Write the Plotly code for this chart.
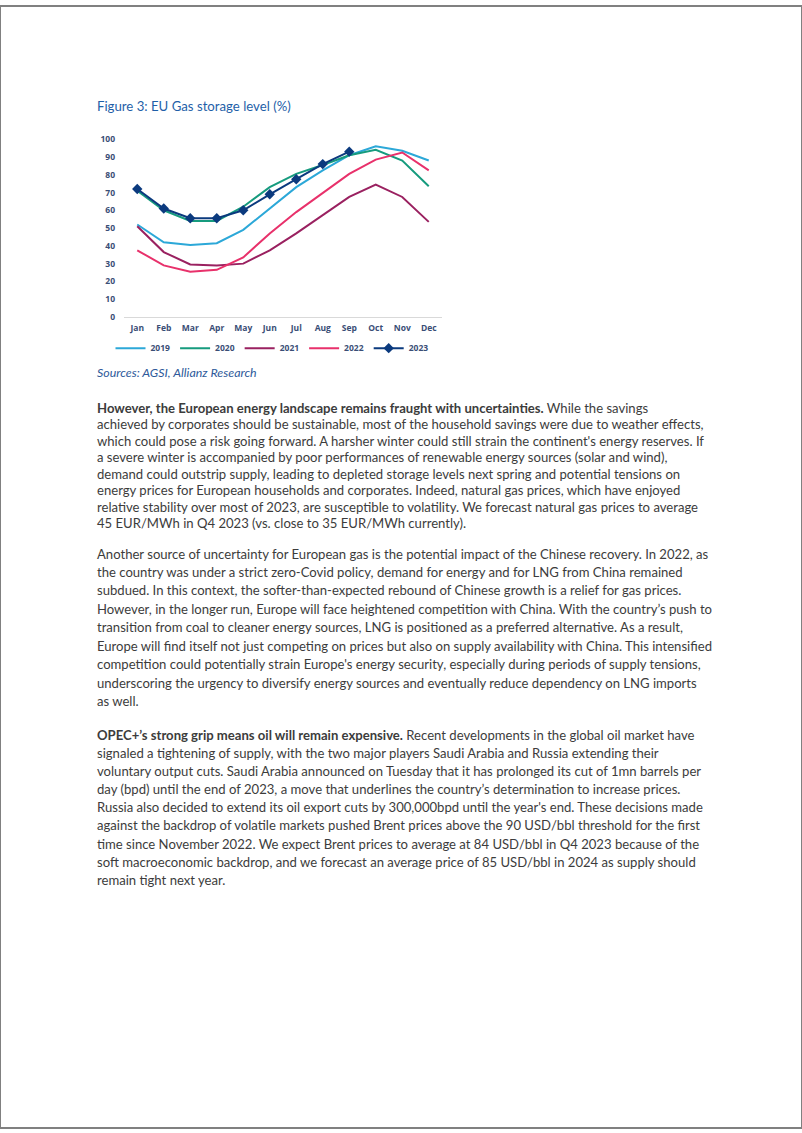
import plotly.graph_objects as go

W, H = 802, 1133

months = ['Jan', 'Feb', 'Mar', 'Apr', 'May', 'Jun', 'Jul', 'Aug', 'Sep', 'Oct', 'Nov', 'Dec']
y2019 = [52, 42, 40.5, 41.5, 49, 61, 73, 82.5, 91, 96, 93.5, 88]
y2020 = [71, 60, 54, 54, 62, 73, 80.5, 85.5, 91, 94, 88, 73.5]
y2021 = [51, 36.5, 29.5, 29, 30, 37.5, 47, 57, 67.5, 74.5, 67.5, 53.5]
y2022 = [37.5, 29, 25.5, 26.5, 33.5, 47, 59, 70, 80.5, 88.5, 92.5, 82.5]
y2023 = [72, 61, 55.5, 55.5, 60, 69, 77.5, 86, 93, None, None, None]
yticks = [0, 10, 20, 30, 40, 50, 60, 70, 80, 90, 100]

series = [
    ('2019', y2019, '#2CA8D8'),
    ('2020', y2020, '#169B7E'),
    ('2021', y2021, '#9A2160'),
    ('2022', y2022, '#E8316B'),
]

para1 = [
    "<b>However, the European energy landscape remains fraught with uncertainties.</b> While the savings",
    "achieved by corporates should be sustainable, most of the household savings were due to weather effects,",
    "which could pose a risk going forward. A harsher winter could still strain the continent's energy reserves. If",
    "a severe winter is accompanied by poor performances of renewable energy sources (solar and wind),",
    "demand could outstrip supply, leading to depleted storage levels next spring and potential tensions on",
    "energy prices for European households and corporates. Indeed, natural gas prices, which have enjoyed",
    "relative stability over most of 2023, are susceptible to volatility. We forecast natural gas prices to average",
    "45 EUR/MWh in Q4 2023 (vs. close to 35 EUR/MWh currently).",
]
para2 = [
    "Another source of uncertainty for European gas is the potential impact of the Chinese recovery. In 2022, as",
    "the country was under a strict zero-Covid policy, demand for energy and for LNG from China remained",
    "subdued. In this context, the softer-than-expected rebound of Chinese growth is a relief for gas prices.",
    "However, in the longer run, Europe will face heightened competition with China. With the country\u2019s push to",
    "transition from coal to cleaner energy sources, LNG is positioned as a preferred alternative. As a result,",
    "Europe will find itself not just competing on prices but also on supply availability with China. This intensified",
    "competition could potentially strain Europe's energy security, especially during periods of supply tensions,",
    "underscoring the urgency to diversify energy sources and eventually reduce dependency on LNG imports",
    "as well.",
]
para3 = [
    "<b>OPEC+\u2019s strong grip means oil will remain expensive.</b> Recent developments in the global oil market have",
    "signaled a tightening of supply, with the two major players Saudi Arabia and Russia extending their",
    "voluntary output cuts. Saudi Arabia announced on Tuesday that it has prolonged its cut of 1mn barrels per",
    "day (bpd) until the end of 2023, a move that underlines the country\u2019s determination to increase prices.",
    "Russia also decided to extend its oil export cuts by 300,000bpd until the year's end. These decisions made",
    "against the backdrop of volatile markets pushed Brent prices above the 90 USD/bbl threshold for the first",
    "time since November 2022. We expect Brent prices to average at 84 USD/bbl in Q4 2023 because of the",
    "soft macroeconomic backdrop, and we forecast an average price of 85 USD/bbl in 2024 as supply should",
    "remain tight next year.",
]

fig = go.Figure()
for name, vals, col in series:
    fig.add_trace(go.Scatter(x=months, y=vals, name=name, mode='lines',
                             line=dict(color=col, width=2)))
fig.add_trace(go.Scatter(x=months, y=y2023, name='2023', mode='lines+markers',
                         line=dict(color='#0B3A7E', width=2),
                         marker=dict(symbol='diamond', size=8, color='#0B3A7E')))

def py(px):
    return 1 - px / H

tick_font = dict(family='Open Sans', size=8.5, color='#3A4E76', weight='bold')
fig.update_layout(
    width=W, height=H, margin=dict(l=0, r=0, t=0, b=0),
    paper_bgcolor='white', plot_bgcolor='white',
    font=dict(family='Lato', color='#3c3c3c'),
    xaxis=dict(domain=[124 / W, 442 / W], range=[-0.5, 11.5], showgrid=False,
               showline=True, linecolor='#D9D9D9', linewidth=1, ticks='',
               ticklabelstandoff=3, tickfont=tick_font, fixedrange=True),
    yaxis=dict(domain=[py(314), py(134.5)], range=[0, 100], tickvals=yticks,
               showgrid=False, zeroline=False, showline=False, ticks='',
               ticklabelstandoff=8, tickfont=tick_font, fixedrange=True),
    legend=dict(orientation='h', x=272 / W, xanchor='center', y=py(345.5), yanchor='middle',
                font=dict(family='Open Sans', size=8.5, color='#3A4E76', weight='bold'),
                itemwidth=30, bgcolor='rgba(0,0,0,0)'),
    showlegend=True,
)

fig.add_annotation(text='Figure 3: EU Gas storage level (%)', xref='paper', yref='paper',
                   x=95 / W, y=py(101), xanchor='left', yanchor='middle', showarrow=False,
                   font=dict(family='Lato', size=13.2, color='#1F5FA8'))
fig.add_annotation(text='<i>Sources: AGSI, Allianz Research</i>', xref='paper', yref='paper',
                   x=95 / W, y=py(370), xanchor='left', yanchor='middle', showarrow=False,
                   font=dict(family='Lato', size=12.4, color='#2E5A9A'))

def add_para(lines, y0, step):
    for i, line in enumerate(lines):
        fig.add_annotation(text=line, xref='paper', yref='paper', x=95 / W, y=py(y0 + i * step),
                           xanchor='left', yanchor='middle', showarrow=False,
                           font=dict(family='Lato', size=13.1, color='#3c3c3c'))

add_para(para1, 406, 16.6)
add_para(para2, 553, 18.6)
add_para(para3, 736, 18.3)

fig.add_shape(type='rect', xref='paper', yref='paper', x0=0, x1=1, y0=0, y1=1,
              line=dict(color='#808080', width=2))

fix_js = ("document.body.style.margin='0';document.body.style.padding='0';"
          "document.body.style.overflow='hidden';"
          "var d=document.getElementsByClassName('plotly-graph-div')[0];"
          "d.style.position='absolute';d.style.top='0px';d.style.left='0px';")
fig.write_html('out.html', config={'displayModeBar': False}, post_script=fix_js)
